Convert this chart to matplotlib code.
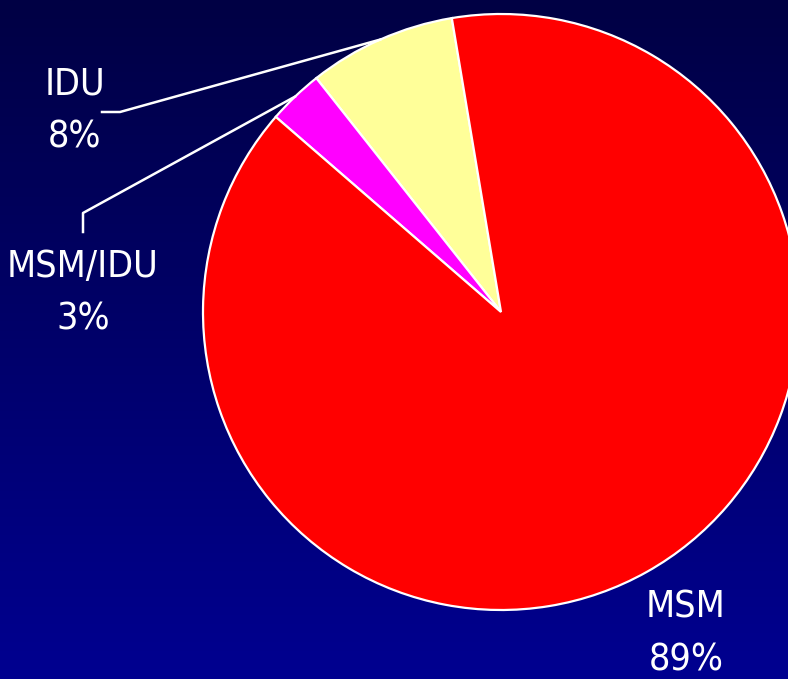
import numpy as np
import matplotlib.pyplot as plt
from matplotlib import font_manager

# data
labels = ["IDU", "MSM/IDU", "MSM"]
shares = [8, 3, 89]
colors = ["#ffff99", "#ff00ff", "#ff0000"]

W, H = 788, 679
fig = plt.figure(figsize=(W / 100, H / 100), dpi=100)
ax = fig.add_axes([0, 0, 1, 1])

# background gradient, dark navy at the top to blue at the bottom
grad = np.linspace(0, 1, 256).reshape(-1, 1)
top = np.array([0x00, 0x00, 0x44]) / 255
bottom = np.array([0x00, 0x00, 0x90]) / 255
img = top + (bottom - top) * grad[:, :, None]
ax.imshow(img, extent=[0, W, 0, H], aspect="auto", origin="upper", zorder=0)

families = [f.name for f in font_manager.fontManager.ttflist]
font = "Liberation Sans Narrow" if "Liberation Sans Narrow" in families else "DejaVu Sans"
stretch = "normal" if font == "Liberation Sans Narrow" else "condensed"

cx, cy, r = 501, 367, 298
start = 99.5
wedges, _ = ax.pie(shares, colors=colors, startangle=start, counterclock=True,
                   center=(cx, cy), radius=r, frame=True,
                   wedgeprops=dict(edgecolor="white", linewidth=1.6))
for w in wedges:
    w.set_zorder(2)
ax.set_xlim(0, W)
ax.set_ylim(0, H)
ax.set_aspect("equal")
ax.axis("off")

# leader lines from the wedge midpoints
def edge_point(w):
    a = np.deg2rad((w.theta1 + w.theta2) / 2)
    return cx + r * np.cos(a), cy + r * np.sin(a)

x0, y0 = edge_point(wedges[0])
ax.plot([x0, 120, 102], [y0, H - 112, H - 112], color="white", lw=1.8, zorder=3)
x1, y1 = edge_point(wedges[1])
ax.plot([x1, 83, 83], [y1, H - 213, H - 232], color="white", lw=1.8, zorder=3)

tkw = dict(color="white", fontsize=27, family=font, stretch=stretch,
           ha="center", va="center", linespacing=1.6, zorder=4)
label_pos = [(75, H - 111), (83, H - 293), (686, H - 634)]
for lab, val, (tx, ty) in zip(labels, shares, label_pos):
    ax.text(tx, ty, f"{lab}\n{val}%", **tkw)

fig.savefig("out.png", dpi=100)
